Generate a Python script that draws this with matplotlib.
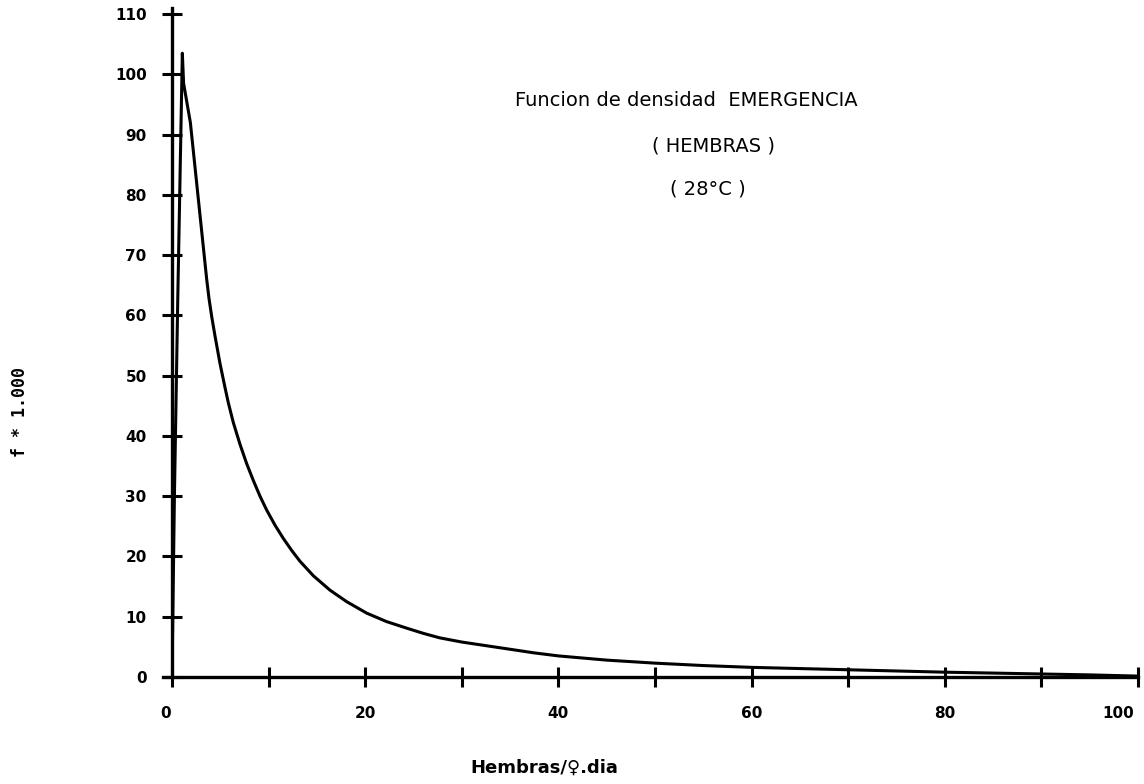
import matplotlib
matplotlib.use("Agg")
import matplotlib.pyplot as plt
import matplotlib.transforms as mtrans

# Data
x_vals = [0, 0.25, 0.6, 1.07, 1.2, 1.9, 3.59, 3.83, 4.11, 4.45, 4.97, 5.49,
          5.83, 6.35, 7.04, 7.73, 8.42, 9.11, 9.80, 10.66, 11.52, 12.39,
          13.25, 14.63, 16.36, 18.08, 20.15, 22.2, 24.3, 26.0, 27.7, 30,
          32.5, 35, 37.5, 40, 45, 50, 55, 60, 65, 70, 75, 80, 85, 90, 95, 100]
y_vals = [0, 30, 63, 103.5, 98.5, 92, 66.0, 62.8, 59.8, 56.6, 52.0, 48.0,
          45.5, 42.2, 38.6, 35.4, 32.6, 30.0, 27.7, 25.2, 23.0, 21.0,
          19.2, 16.8, 14.4, 12.5, 10.6, 9.2, 8.1, 7.25, 6.5, 5.8,
          5.2, 4.6, 4.0, 3.5, 2.8, 2.3, 1.9, 1.6, 1.4, 1.2, 1.0, 0.8, 0.65,
          0.5, 0.35, 0.15]

x_major = list(range(0, 101, 20))
x_minor = list(range(10, 101, 20))
y_major = list(range(0, 111, 10))

title_lines = ["Funcion de densidad  EMERGENCIA", "( HEMBRAS )", "( 28°C )"]
xlabel = "Hembras/♀.dia"
ylabel = "f * 1.000"

W, H = 1144, 784
fig = plt.figure(figsize=(W / 100, H / 100), dpi=100)
ax = fig.add_axes([172 / W, 1 - 677 / H, (1138 - 172) / W, (677 - 14) / H])

ax.plot(x_vals, y_vals, color="black", lw=2.2, solid_joinstyle="round")

ax.set_xlim(0, 100)
ax.set_ylim(0, 110)
for s in ["top", "right"]:
    ax.spines[s].set_visible(False)
ax.spines["left"].set_linewidth(2.4)
ax.spines["bottom"].set_linewidth(2.4)
ax.spines["left"].set_bounds(0, 111)
ax.spines["bottom"].set_bounds(-0.9, 100)

ax.xaxis.set_major_locator(plt.FixedLocator(x_major))
ax.xaxis.set_minor_locator(plt.FixedLocator(x_minor))
ax.yaxis.set_major_locator(plt.FixedLocator(y_major))
ax.set_xticklabels([str(v) for v in x_major])
ax.set_yticklabels([str(v) for v in y_major])

ax.tick_params(axis="both", which="both", direction="inout", length=14.4,
               width=2.2, color="black")
ax.tick_params(axis="x", which="major", pad=14)
ax.tick_params(axis="y", which="major", pad=11)
for lab in ax.get_xticklabels() + ax.get_yticklabels():
    lab.set_fontfamily("DejaVu Sans")
    lab.set_fontweight("bold")
    lab.set_fontsize(11)

# shift first and last x labels like the reference
xl = ax.get_xticklabels()
xl[0].set_transform(xl[0].get_transform() +
                    mtrans.ScaledTranslation(-6 / 100, 0, fig.dpi_scale_trans))
xl[-1].set_transform(xl[-1].get_transform() +
                     mtrans.ScaledTranslation(-20 / 100, 0, fig.dpi_scale_trans))

fig.text(515 / W, 1 - 101 / H, title_lines[0], ha="left", va="center",
         fontsize=14, family="DejaVu Sans")
fig.text(652 / W, 1 - 146 / H, title_lines[1], ha="left", va="center",
         fontsize=14, family="DejaVu Sans")
fig.text(670 / W, 1 - 189 / H, title_lines[2], ha="left", va="center",
         fontsize=14, family="DejaVu Sans")

fig.text(470 / W, 1 - 768 / H, xlabel, ha="left", va="center",
         fontsize=13, fontweight="bold", family="DejaVu Sans")
fig.text(20 / W, 1 - 412 / H, ylabel, ha="center", va="center",
         rotation=90, fontsize=12, fontweight="bold", family="DejaVu Sans Mono")

fig.savefig("out.png", dpi=100, facecolor="white")
